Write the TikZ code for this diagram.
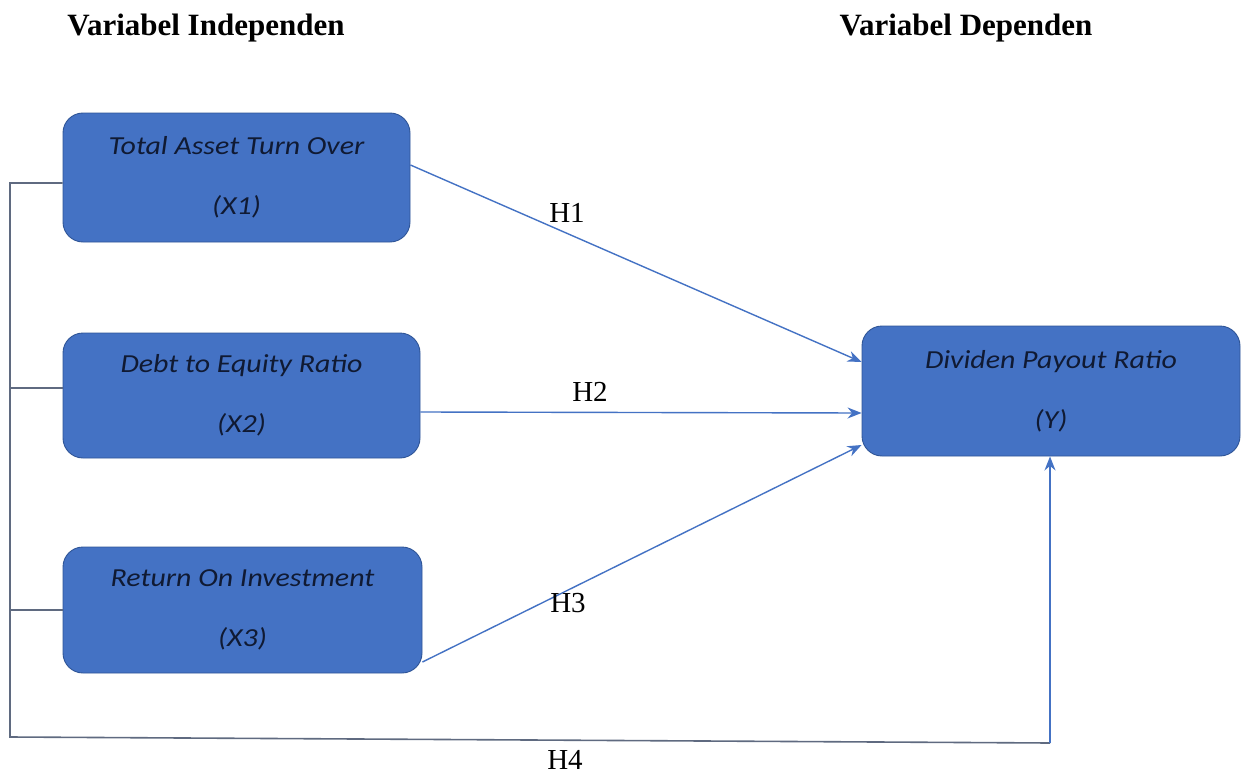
\documentclass[tikz,border=0pt]{standalone}
\usepackage{fontspec}
\setmainfont{Liberation Serif}
\newfontfamily\boxfont[FakeStretch=1.15]{Carlito}
\usepackage{tikz}
\usetikzlibrary{positioning,arrows.meta,calc}
\definecolor{cBox} {HTML}{4472C4}
\definecolor{cEdge}{HTML}{2F5597}
\definecolor{cText}{HTML}{101A33}
\definecolor{cLine}{HTML}{5F6A80}
\tikzset{
  >={Stealth[length=14pt,width=11pt]},
  vbox/.style={rounded corners=20pt,draw=cEdge,fill=cBox,line width=0.9pt,
               align=center,inner sep=0pt,text=cText,
               font=\boxfont\itshape\fontsize{26}{60}\selectfont},
  sar/.style ={->,line width=1.4pt,cBox},
  stie/.style={line width=1.6pt,cLine},
  shyp/.style={font=\fontsize{29}{30}\selectfont},
  shead/.style={font=\bfseries\fontsize{31}{34}\selectfont},
}
\begin{document}
\begin{tikzpicture}[x=1pt,y=-1pt]
        \useasboundingbox[fill=white] (0,0) rectangle (1243,776);
        \node[shead] (hind) at (206,28) {Variabel Independen};
        \node[shead] (hdep) at (966,28) {Variabel Dependen};
        \node[vbox,minimum width=347pt,minimum height=129pt] (x1) at (236.5,177.5) {Total Asset Turn Over\\(X1)};
        \node[vbox,minimum width=357pt,minimum height=125pt] (x2) at (241.5,395.5) {Debt to Equity Ratio\\(X2)};
        \node[vbox,minimum width=359pt,minimum height=126pt] (x3) at (242.5,610) {Return On Investment\\(X3)};
        \node[vbox,minimum width=378pt,minimum height=130pt] (y) at (1051,391) {Dividen Payout Ratio\\(Y)};
        % hypothesis arrows
        \draw[sar] ([yshift=12.5pt]x1.east) -- ([yshift=29pt]y.west);
        \draw[sar] ([yshift=-16.5pt]x2.east) -- ([yshift=-22pt]y.west);
        \draw[sar] ([yshift=-52pt]x3.east) -- ([yshift=-54pt]y.west);
        \node[shyp] (h1) at (567,213) {H1};
        \node[shyp] (h2) at (590,392) {H2};
        \node[shyp] (h3) at (568,603) {H3};
        % joint path
        \coordinate (bt) at (10,183);
        \coordinate (bl) at (10,737);
        \coordinate (br) at (1050,743);
        \draw[stie] ([yshift=-5.5pt]x1.west) -- (bt) -- (bl) -- (br);
        \draw[stie] ([yshift=7.5pt]x2.west) -- ++(-53pt,0);
        \draw[stie] (x3.west) -- ++(-53pt,0);
        \draw[sar] (br) -- (br |- y.south);
        \node[shyp] (h4) at (565,760) {H4};
\end{tikzpicture}
\end{document}
